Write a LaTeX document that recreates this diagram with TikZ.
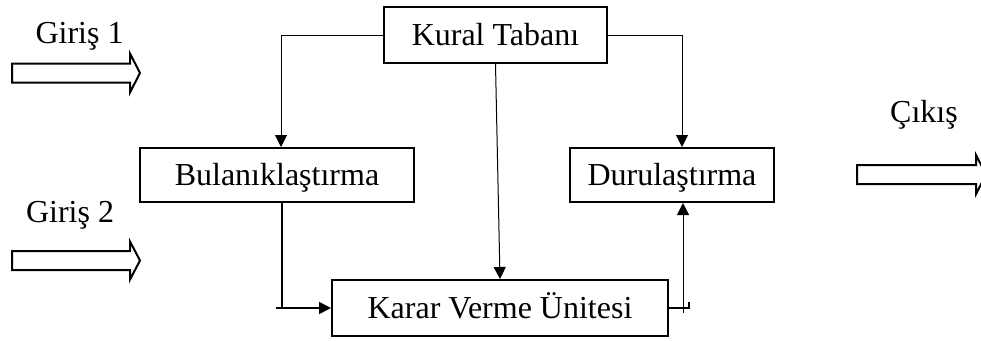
\documentclass[tikz,border=0pt]{standalone}
\usepackage{fontspec}
\setmainfont{Liberation Serif}
\usetikzlibrary{arrows.meta}
\begin{document}
\begin{tikzpicture}[x=1pt,y=-1pt,
  box/.style={draw,line width=2pt,inner sep=0pt,text height=21pt,text depth=1pt,font=\fontsize{32}{36}\selectfont},
  lbl/.style={inner sep=0pt,anchor=base,font=\fontsize{32}{36}\selectfont},
  conn/.style={line width=1pt,-{Triangle[length=12pt,width=12pt]}},
  plain/.style={line width=1.5pt},
  hollow/.style={draw,line width=2pt,fill=white,line join=miter}]
\useasboundingbox (0,0) rectangle (981,340);
% boxes
\node[box,minimum width=223pt,minimum height=56pt] (kural) at (495.5,35) {Kural Tabanı};
\node[box,minimum width=274pt,minimum height=54pt] (bul) at (277,175) {Bulanıklaştırma};
\node[box,minimum width=204pt,minimum height=54pt] (dur) at (672,175) {Durulaştırma};
\node[box,minimum width=336pt,minimum height=56pt] (karar) at (500,308) {Karar Verme Ünitesi};
% labels
\node[lbl] (g1) at (79.5,43) {Giriş 1};
\node[lbl] (g2) at (70,222) {Giriş 2};
\node[lbl] (cik) at (924,122) {Çıkış};
% hollow arrows
\draw[hollow] (12,63.5) -- (130,63.5) -- (130,53.5) -- (140,73) -- (130,92.5) -- (130,82.5) -- (12,82.5) -- cycle;
\draw[hollow] (12,251) -- (130,251) -- (130,241.5) -- (140,260.5) -- (130,279.5) -- (130,270) -- (12,270) -- cycle;
\draw[hollow] (857,165) -- (976,165) -- (976,155) -- (986,174.5) -- (976,194) -- (976,184) -- (857,184) -- cycle;
% connectors
\draw[conn] (kural.west) -| ([xshift=4pt]bul.north);
\draw[conn] (kural.east) -| ([xshift=10pt]dur.north);
\draw[conn] (kural.south) -- (karar.north);
\coordinate (k1) at ([xshift=-55pt]karar.west);
\draw[plain] ([xshift=5pt]bul.south) -- ([xshift=5pt]bul.south |- karar.west);
\draw[conn,line width=1.5pt] (k1) -- (karar.west);
\draw[plain] (karar.east) -- ++(20,0) -- ++(0,-6);
\coordinate (d1) at ([xshift=11pt,yshift=-5pt]dur.south |- karar.east);
\draw[conn] (d1) -- ([xshift=11pt]dur.south);
\end{tikzpicture}
\end{document}
